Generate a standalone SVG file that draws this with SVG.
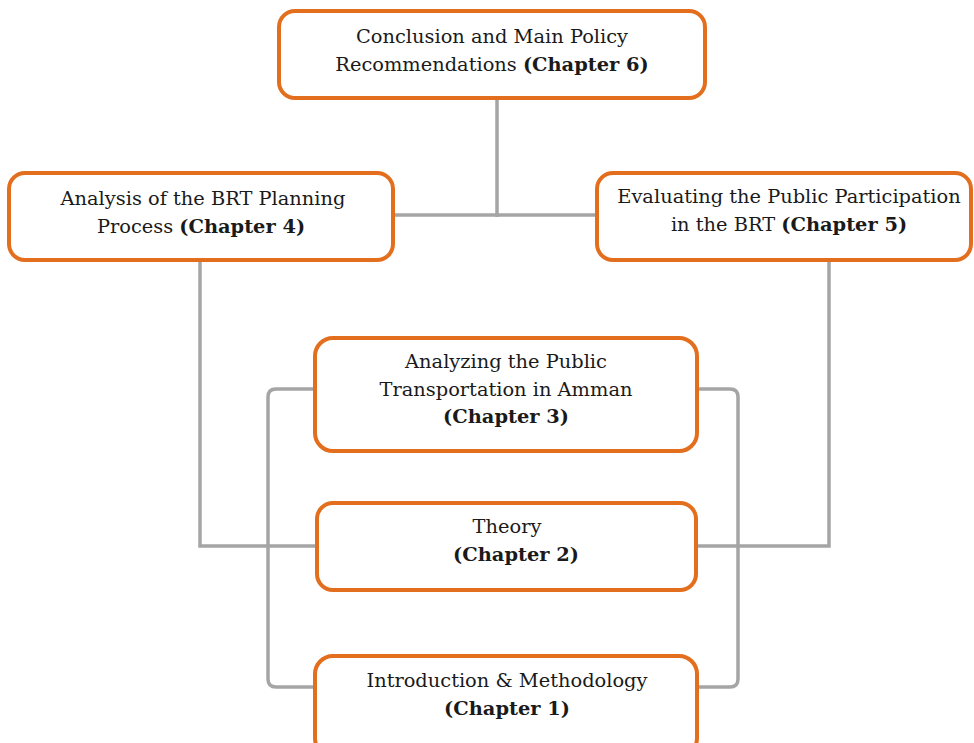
<svg xmlns="http://www.w3.org/2000/svg" width="974" height="743" viewBox="0 0 974 743">
  <style>
    .box { fill: #ffffff; stroke: #E36F1E; stroke-width: 4; }
    .link { fill: none; stroke: #A5A5A5; stroke-width: 3.5; }
    .label { font-family: 'DejaVu Serif', 'Liberation Serif', Georgia, serif; font-size: 19.4px; fill: #1a1a1a; text-anchor: middle; }
    .b { font-weight: bold; }
  </style>
  <rect width="974" height="743" fill="#ffffff"/>

  <!-- connectors -->
  <g id="connectors">
    <path class="link" d="M497 98 V217"/>
    <path class="link" d="M393 215 H597"/>
    <path class="link" d="M200 260 V546 H317"/>
    <path class="link" d="M829 260 V546 H696"/>
    <path class="link" d="M315 389 H276 Q268 389 268 397 V679 Q268 687 276 687 H315"/>
    <path class="link" d="M697 389 H730 Q738 389 738 397 V679 Q738 687 730 687 H697"/>
  </g>

  <g id="ch6">
    <rect class="box" x="279" y="11" width="426" height="87" rx="16"/>
    <text class="label" x="492" y="43">Conclusion and Main Policy</text>
    <text class="label" x="492" y="71">Recommendations <tspan class="b">(Chapter 6)</tspan></text>
  </g>

  <g id="ch4">
    <rect class="box" x="9" y="173" width="384" height="87" rx="16"/>
    <text class="label" x="203" y="205">Analysis of the BRT Planning</text>
    <text class="label" x="201" y="233">Process <tspan class="b">(Chapter 4)</tspan></text>
  </g>

  <g id="ch5">
    <rect class="box" x="597" y="173" width="374" height="87" rx="16"/>
    <text class="label" x="789" y="203">Evaluating the Public Participation</text>
    <text class="label" x="789" y="231">in the BRT <tspan class="b">(Chapter 5)</tspan></text>
  </g>

  <g id="ch3">
    <rect class="box" x="315" y="338" width="382" height="113" rx="18"/>
    <text class="label" x="506" y="368">Analyzing the Public</text>
    <text class="label" x="506" y="396">Transportation in Amman</text>
    <text class="label b" x="506" y="423">(Chapter 3)</text>
  </g>

  <g id="ch2">
    <rect class="box" x="317" y="503" width="379" height="87" rx="16"/>
    <text class="label" x="507" y="533">Theory</text>
    <text class="label b" x="516" y="561">(Chapter 2)</text>
  </g>

  <g id="ch1">
    <rect class="box" x="315" y="656" width="382" height="100" rx="18"/>
    <text class="label" x="507" y="687">Introduction &amp; Methodology</text>
    <text class="label b" x="507" y="715">(Chapter 1)</text>
  </g>
</svg>
